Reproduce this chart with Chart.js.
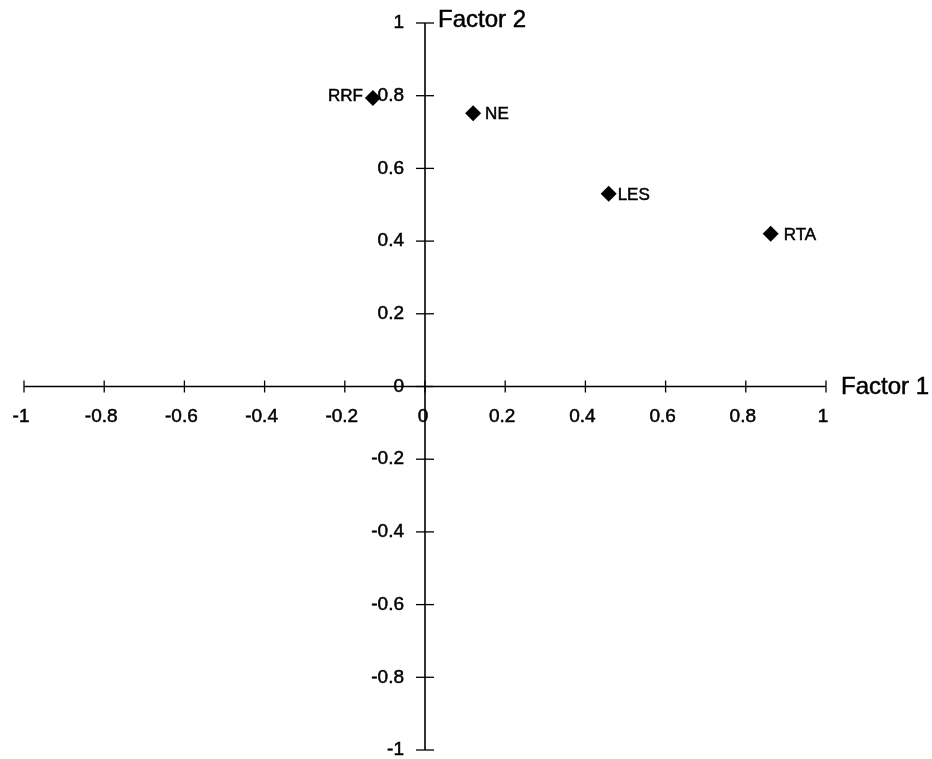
<!DOCTYPE html>
<html>
<head>
<meta charset="utf-8">
<script src="https://cdn.jsdelivr.net/npm/chart.js@4/dist/chart.umd.min.js"></script>
<style>
  html, body { margin: 0; padding: 0; background: #fff; }
  #wrap { width: 932px; height: 759px; }
</style>
</head>
<body>
<div id="wrap"><canvas id="chart"></canvas></div>
<script>
const names = ['RRF', 'NE', 'LES', 'RTA'];
const factor1 = [-0.13, 0.12, 0.458, 0.862];
const factor2 = [0.794, 0.752, 0.53, 0.42];
const tickValues = [-1, -0.8, -0.6, -0.4, -0.2, 0, 0.2, 0.4, 0.6, 0.8, 1];
const axisTitles = ['Factor 1', 'Factor 2'];

const points = names.map((n, i) => ({ x: factor1[i], y: factor2[i], label: n }));

const fmt = v => (Math.abs(v) < 1e-9 ? '0' : String(Math.round(v * 10) / 10));

// gap between diamond and its label
const labelGap = { RRF: -10, NE: 12, LES: 9, RTA: 13 };

// scanned print looks a bit heavier than plain canvas text
const heavyText = (ctx, text, x, y) => {
  ctx.fillText(text, x, y);
  ctx.strokeText(text, x, y);
};

const axesPlugin = {
  id: 'crossAxes',
  beforeDatasetsDraw(chart) {
    const { ctx, scales: { x, y } } = chart;
    const x0 = x.getPixelForValue(0);
    const y0 = y.getPixelForValue(0);
    ctx.save();
    ctx.strokeStyle = '#000';
    ctx.lineWidth = 1.6;
    ctx.beginPath();
    ctx.moveTo(x.getPixelForValue(-1), y0);
    ctx.lineTo(x.getPixelForValue(1), y0);
    ctx.moveTo(x0, y.getPixelForValue(1));
    ctx.lineTo(x0, y.getPixelForValue(-1));
    ctx.stroke();
    ctx.lineWidth = 1.3;
    tickValues.forEach(v => {
      const px = x.getPixelForValue(v);
      ctx.beginPath();
      ctx.moveTo(px, y0 - 6);
      ctx.lineTo(px, y0 + 6);
      ctx.stroke();
    });
    tickValues.forEach(v => {
      const py = y.getPixelForValue(v);
      ctx.beginPath();
      ctx.moveTo(x0 - 9, py);
      ctx.lineTo(x0 + 9, py);
      ctx.stroke();
    });

    ctx.fillStyle = '#000';
    ctx.lineWidth = 0.5;
    ctx.font = '19px "Liberation Sans", Arial, sans-serif';
    ctx.textBaseline = 'middle';
    ctx.textAlign = 'center';
    tickValues.forEach(v => {
      const px = x.getPixelForValue(v);
      heavyText(ctx, fmt(v), px - (v === 0 ? 2 : 3), y0 + 30);
    });
    ctx.textAlign = 'right';
    tickValues.forEach(v => {
      const py = y.getPixelForValue(v);
      heavyText(ctx, fmt(v), x0 - 21, py);
    });

    ctx.font = '24px "Liberation Sans", Arial, sans-serif';
    ctx.textAlign = 'left';
    heavyText(ctx, axisTitles[0], x.getPixelForValue(1) + 15, y0 + 1);
    heavyText(ctx, axisTitles[1], x0 + 13, y.getPixelForValue(1) - 3);
    ctx.restore();
  },
  afterDatasetsDraw(chart) {
    const { ctx } = chart;
    const meta = chart.getDatasetMeta(0);
    ctx.save();
    ctx.fillStyle = '#000';
    ctx.strokeStyle = '#000';
    ctx.lineWidth = 0.5;
    ctx.font = '17px "Liberation Sans", Arial, sans-serif';
    ctx.textBaseline = 'middle';
    meta.data.forEach((el, i) => {
      const name = names[i];
      const gap = labelGap[name];
      ctx.textAlign = gap < 0 ? 'right' : 'left';
      heavyText(ctx, name, el.x + gap, el.y + (gap < 0 ? -2 : 1));
    });
    ctx.restore();
  }
};

new Chart(document.getElementById('chart'), {
  type: 'scatter',
  data: {
    datasets: [{
      data: points,
      pointStyle: 'rectRot',
      pointRadius: 8,
      backgroundColor: '#000',
      borderColor: '#000',
      borderWidth: 0
    }]
  },
  options: {
    responsive: true,
    maintainAspectRatio: false,
    animation: false,
    layout: { padding: { left: 24, right: 106, top: 23, bottom: 9 } },
    plugins: { legend: { display: false }, tooltip: { enabled: false } },
    scales: {
      x: { type: 'linear', min: -1, max: 1, display: false },
      y: { type: 'linear', min: -1, max: 1, display: false }
    }
  },
  plugins: [axesPlugin]
});
</script>
</body>
</html>
